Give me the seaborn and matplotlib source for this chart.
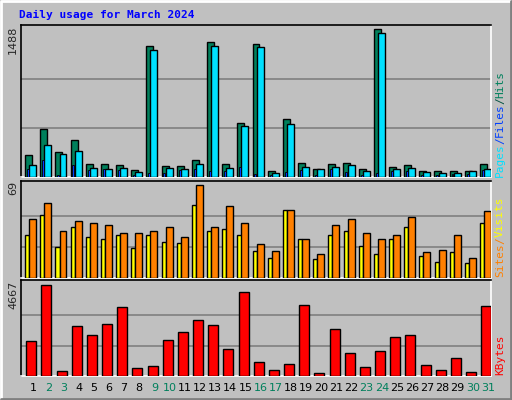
import matplotlib
matplotlib.use("Agg")
from matplotlib import pyplot as plt
import pandas as pd
import seaborn as sns

days = list(range(1, 32))
weekend = [2, 3, 9, 10, 16, 17, 23, 24, 30, 31]
hits = [226, 489, 256, 377, 135, 135, 125, 74, 1318, 115, 115, 175, 1358, 135, 549, 1338,
        64, 580, 145, 84, 135, 145, 84, 1488, 104, 125, 64, 64, 64, 64, 135]
files = [125, 327, 236, 266, 94, 84, 94, 54, 1277, 94, 84, 135, 1318, 94, 519, 1308,
         44, 539, 104, 84, 104, 125, 64, 1449, 84, 94, 54, 44, 44, 64, 84]
pages = [84, 175, 24, 125, 74, 84, 74, 24, 44, 44, 74, 84, 64, 64, 104, 34,
         24, 54, 74, 24, 84, 54, 24, 44, 64, 64, 24, 24, 34, 34, 74]
sites = [31.5, 46.5, 23, 37.5, 30, 29, 32, 22.5, 32, 27, 26, 54, 34.5, 36, 31.5, 20,
         15, 50, 29, 14, 32, 35, 24, 18, 28.5, 37.5, 16.5, 12, 19.5, 11, 40.5]
visits = [43.5, 55.5, 34.5, 42, 40.5, 39, 33, 33, 34.5, 37.5, 30, 69, 38, 53, 40.5, 25.5,
          20, 50, 29, 18, 39, 44, 33, 28.5, 32, 45, 19.5, 21, 31.5, 15, 49.5]
kbytes = [1795, 4667, 256, 2564, 2103, 2667, 3539, 410, 513, 1846, 2257, 2872, 2616, 1385, 4308, 718,
          308, 615, 3642, 154, 2411, 1180, 462, 1282, 2000, 2103, 564, 308, 923, 205, 3590]

sns.set_style("white")
plt.rcParams["font.family"] = ["DejaVu Sans Mono", "DejaVu Sans"]

W, H = 512, 400
fig = plt.figure(figsize=(W / 100, H / 100), dpi=100, facecolor="#C0C0C0")

# 3D border
bg = fig.add_axes([0, 0, 1, 1])
bg.set_xlim(0, W); bg.set_ylim(H, 0); bg.axis("off")
bg.plot([1, 1, W - 1], [H - 1, 1, 1], color="white", lw=2)
bg.plot([1, W - 1, W - 1], [H - 1, H - 1, 1], color="#808080", lw=2)


def panel(top, bottom):
    ax = fig.add_axes([21 / W, 1 - bottom / H, (491 - 21) / W, (bottom - top) / H])
    ax.set_facecolor("#C0C0C0")
    for s in ["left", "top"]:
        ax.spines[s].set_color("black")
    for s in ["right", "bottom"]:
        ax.spines[s].set_color("white")
    for s in ax.spines.values():
        s.set_linewidth(1.2)
    ax.set_xlim(0.5, 31.5)
    ax.set_xticks([]); ax.set_yticks([])
    return ax


def bars(ax, offset, vals, width, color, lw=1.0):
    df = pd.DataFrame({"x": [d + offset for d in days], "y": vals})
    sns.barplot(data=df, x="x", y="y", native_scale=True, width=width, color=color,
                saturation=1, edgecolor="black", linewidth=lw, ax=ax, zorder=3)
    ax.set_xlabel(""); ax.set_ylabel("")


def grid(ax, vmax):
    for f in (1 / 3, 2 / 3):
        ax.axhline(vmax * f, color="#808080", lw=1.2, zorder=1)


# top panel
ax1 = panel(25, 177)
m1 = max(hits)
grid(ax1, m1)
bars(ax1, 0.0, hits, 0.46, "#00805C")
bars(ax1, 0.27, files, 0.46, "#00E0FF")
bars(ax1, -0.04, pages, 0.13, "#0040FF", lw=0.6)
ax1.set_xlim(0.5, 31.5)
ax1.set_ylim(0, m1 * 1.03)

# middle panel
ax2 = panel(181, 278)
m2 = max(visits)
grid(ax2, m2)
bars(ax2, -0.09, sites, 0.27, "#FFFF00")
bars(ax2, 0.27, visits, 0.46, "#FF8000")
ax2.set_xlim(0.5, 31.5)
ax2.set_ylim(0, m2 * 1.04)

# bottom panel
ax3 = panel(280, 376)
m3 = max(kbytes)
grid(ax3, m3)
bars(ax3, 0.18, kbytes, 0.66, "#FF0000")
ax3.set_xlim(0.5, 31.5)
ax3.set_ylim(0, m3 * 1.05)
for d in days:
    ax3.text(d + 0.3, -0.13, str(d), transform=ax3.get_xaxis_transform(),
             ha="center", va="center", fontsize=8, family="DejaVu Sans",
             color="#00805C" if d in weekend else "black")

# texts
bg.text(19, 15, "Daily usage for March 2024", color="#0000FF", fontsize=8,
        fontweight="bold", va="center", ha="left")
for y, s in [(26, "1488"), (181, "69"), (281, "4667")]:
    bg.text(13, y, s, rotation=90, fontsize=8, va="top", ha="center", family="DejaVu Sans")


def side(y0, parts):
    y = y0
    for s, c in parts:
        bg.text(500, y, s, rotation=90, color=c, fontsize=8, va="bottom", ha="center")
        y -= len(s) * 6.6


side(177, [("Pages", "#00E0FF"), ("/", "#0040FF"), ("Files", "#0040FF"), ("/", "#005040"), ("Hits", "#00805C")])
side(277, [("Sites", "#FF8000"), ("/", "#FF8000"), ("Visits", "#FFFF00")])
side(375, [("KBytes", "#FF0000")])

fig.savefig("out.png", dpi=100, facecolor=fig.get_facecolor())
